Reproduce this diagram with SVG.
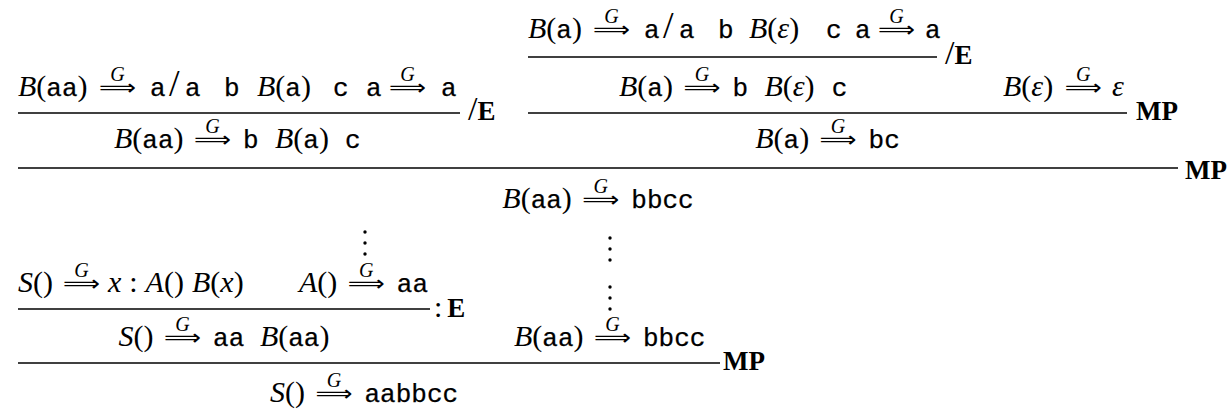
<svg xmlns="http://www.w3.org/2000/svg" width="1228" height="410" viewBox="0 0 1228 410">
<style>
text{font-family:"Liberation Serif",serif;font-size:30px;fill:#000}
.i{font-style:italic}
.t{font-family:"Liberation Mono",monospace;font-size:26px;stroke:#000;stroke-width:0.25}
.ar{font-family:"DejaVu Sans",sans-serif;font-size:22px}
.g{font-style:italic;font-size:20px}
.bd{font-weight:bold;font-size:27px}
.sl{font-size:34px}
.sb{font-size:38px}
.rule{stroke:#000;stroke-width:1.4}
.dot{fill:#000}
</style>
<rect width="1228" height="410" fill="#fff"/>
<g id="rules">
<line class="rule" x1="18" y1="113" x2="460" y2="113"/>
<line class="rule" x1="528" y1="57" x2="937" y2="57"/>
<line class="rule" x1="528" y1="113" x2="1127" y2="113"/>
<line class="rule" x1="18" y1="168" x2="1178" y2="168"/>
<line class="rule" x1="18" y1="309" x2="430" y2="309"/>
<line class="rule" x1="18" y1="363" x2="720" y2="363"/>
</g>
<g id="labels">
<text x="468" y="120"><tspan class="sl">/</tspan><tspan class="bd">E</tspan></text>
<text x="945" y="64"><tspan class="sl">/</tspan><tspan class="bd">E</tspan></text>
<text class="bd" x="1136" y="120">MP</text>
<text class="bd" x="1185" y="179">MP</text>
<text x="434" y="317">:<tspan class="bd" dx="5">E</tspan></text>
<text class="bd" x="723" y="370">MP</text>
</g>
<g id="f1">
<text x="18" y="96"><tspan class="i">B</tspan>(<tspan class="t">aa</tspan>)</text>
<text class="ar" x="99" y="95" textLength="37" lengthAdjust="spacingAndGlyphs">⟹</text>
<text class="g" x="117.5" y="81" text-anchor="middle">G</text>
<text y="96"><tspan class="t" x="150">a</tspan><tspan class="sb" x="169">/</tspan><tspan class="t" x="185">a</tspan><tspan class="t" x="224">b</tspan><tspan class="i" x="257">B</tspan>(<tspan class="t">a</tspan>)<tspan class="t" x="333">c</tspan></text>
<text class="t" x="366" y="96">a</text>
<text class="ar" x="389" y="95" textLength="37" lengthAdjust="spacingAndGlyphs">⟹</text>
<text class="g" x="407.5" y="81" text-anchor="middle">G</text>
<text class="t" x="441" y="96">a</text>
</g>
<g id="f2">
<text x="114" y="148"><tspan class="i">B</tspan>(<tspan class="t">aa</tspan>)</text>
<text class="ar" x="194" y="147" textLength="37" lengthAdjust="spacingAndGlyphs">⟹</text>
<text class="g" x="212.5" y="133" text-anchor="middle">G</text>
<text y="148"><tspan class="t" x="243">b</tspan><tspan class="i" x="275">B</tspan>(<tspan class="t">a</tspan>)<tspan class="t" x="345">c</tspan></text>
</g>
<g id="f3">
<text x="528" y="38"><tspan class="i">B</tspan>(<tspan class="t">a</tspan>)</text>
<text class="ar" x="593" y="37" textLength="37" lengthAdjust="spacingAndGlyphs">⟹</text>
<text class="g" x="611.5" y="23" text-anchor="middle">G</text>
<text y="38"><tspan class="t" x="644">a</tspan><tspan class="sb" x="663">/</tspan><tspan class="t" x="679">a</tspan><tspan class="t" x="718">b</tspan><tspan class="i" x="749">B</tspan>(<tspan class="i">ε</tspan>)<tspan class="t" x="826">c</tspan></text>
<text class="t" x="855" y="38">a</text>
<text class="ar" x="878" y="37" textLength="37" lengthAdjust="spacingAndGlyphs">⟹</text>
<text class="g" x="896.5" y="23" text-anchor="middle">G</text>
<text class="t" x="925" y="38">a</text>
</g>
<g id="f4">
<text x="619" y="96"><tspan class="i">B</tspan>(<tspan class="t">a</tspan>)</text>
<text class="ar" x="683.4" y="95" textLength="37" lengthAdjust="spacingAndGlyphs">⟹</text>
<text class="g" x="701.9" y="81" text-anchor="middle">G</text>
<text y="96"><tspan class="t" x="732.4">b</tspan><tspan class="i" x="764.4">B</tspan>(<tspan class="i">ε</tspan>)<tspan class="t" x="831.7">c</tspan></text>
</g>
<g id="f5">
<text x="1003" y="96"><tspan class="i">B</tspan>(<tspan class="i">ε</tspan>)</text>
<text class="ar" x="1064.8" y="95" textLength="37" lengthAdjust="spacingAndGlyphs">⟹</text>
<text class="g" x="1083.3" y="81" text-anchor="middle">G</text>
<text class="i" x="1112" y="96">ε</text>
</g>
<g id="f6">
<text x="755.2" y="148"><tspan class="i">B</tspan>(<tspan class="t">a</tspan>)</text>
<text class="ar" x="819.6" y="147" textLength="37" lengthAdjust="spacingAndGlyphs">⟹</text>
<text class="g" x="838.1" y="133" text-anchor="middle">G</text>
<text class="t" x="868.6" y="148">bc</text>
</g>
<g id="f7">
<text x="502.3" y="208"><tspan class="i">B</tspan>(<tspan class="t">aa</tspan>)</text>
<text class="ar" x="582.3" y="207" textLength="37" lengthAdjust="spacingAndGlyphs">⟹</text>
<text class="g" x="600.8" y="193" text-anchor="middle">G</text>
<text class="t" x="631.3" y="208">bbcc</text>
</g>
<g id="dots">
<circle class="dot" cx="365" cy="232" r="1.7"/>
<circle class="dot" cx="365" cy="243" r="1.7"/>
<circle class="dot" cx="365" cy="254" r="1.7"/>
<circle class="dot" cx="610" cy="238" r="1.7"/>
<circle class="dot" cx="610" cy="249" r="1.7"/>
<circle class="dot" cx="610" cy="260" r="1.7"/>
<circle class="dot" cx="610" cy="287" r="1.7"/>
<circle class="dot" cx="610" cy="298" r="1.7"/>
<circle class="dot" cx="610" cy="309" r="1.7"/>
</g>
<g id="f8">
<text x="18" y="292"><tspan class="i">S</tspan>()</text>
<text class="ar" x="63" y="291" textLength="37" lengthAdjust="spacingAndGlyphs">⟹</text>
<text class="g" x="81.5" y="277" text-anchor="middle">G</text>
<text y="292"><tspan class="i" x="108">x</tspan><tspan x="129.3">:</tspan><tspan class="i" x="145.6">A</tspan>()<tspan class="i" x="192">B</tspan>(<tspan class="i">x</tspan>)</text>
<text x="299" y="292"><tspan class="i">A</tspan>()</text>
<text class="ar" x="347.8" y="291" textLength="37" lengthAdjust="spacingAndGlyphs">⟹</text>
<text class="g" x="366.3" y="277" text-anchor="middle">G</text>
<text class="t" x="396.8" y="292">aa</text>
</g>
<g id="f9">
<text x="118.6" y="346"><tspan class="i">S</tspan>()</text>
<text class="ar" x="164.1" y="345" textLength="37" lengthAdjust="spacingAndGlyphs">⟹</text>
<text class="g" x="182.6" y="331" text-anchor="middle">G</text>
<text y="346"><tspan class="t" x="213.1">aa</tspan><tspan class="i" x="259.9">B</tspan>(<tspan class="t">aa</tspan>)</text>
</g>
<g id="f10">
<text x="514" y="346"><tspan class="i">B</tspan>(<tspan class="t">aa</tspan>)</text>
<text class="ar" x="594" y="345" textLength="37" lengthAdjust="spacingAndGlyphs">⟹</text>
<text class="g" x="612.5" y="331" text-anchor="middle">G</text>
<text class="t" x="643" y="346">bbcc</text>
</g>
<g id="f11">
<text x="270" y="402"><tspan class="i">S</tspan>()</text>
<text class="ar" x="315.5" y="401" textLength="37" lengthAdjust="spacingAndGlyphs">⟹</text>
<text class="g" x="334" y="387" text-anchor="middle">G</text>
<text class="t" x="364.5" y="402">aabbcc</text>
</g>
</svg>
